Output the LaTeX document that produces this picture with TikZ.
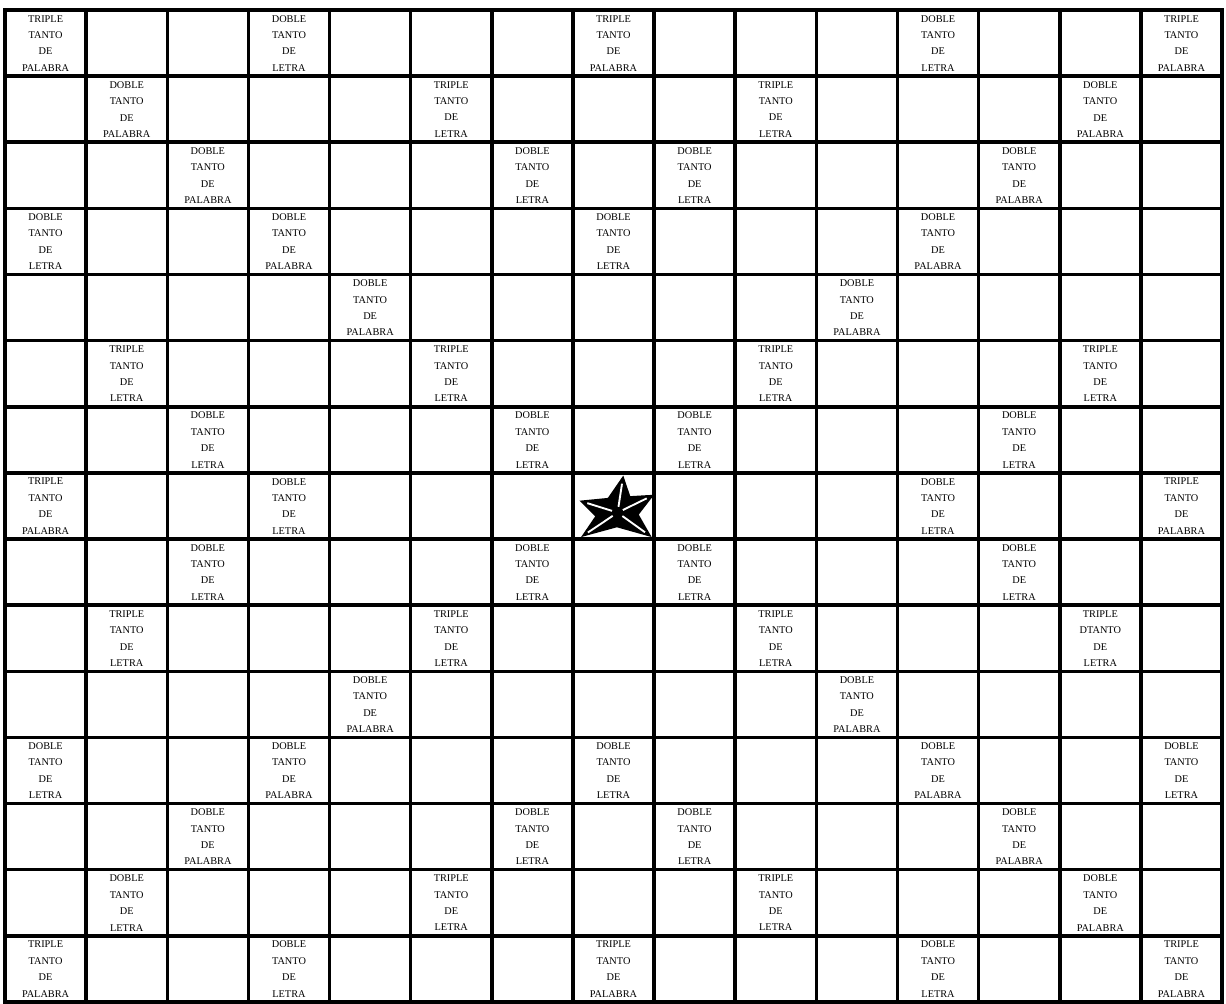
\documentclass[tikz,border=0pt]{standalone}
\usepackage{fontspec}
\setmainfont{Liberation Serif}
\usetikzlibrary{positioning}

\tikzset{
  casilla/.style={font={\fontsize{8.8}{14}\selectfont}, align=center, anchor=north, inner sep=0pt},
  rejilla/.style={line width=3pt, line cap=rect}
}

\begin{document}
\begin{tikzpicture}[x=2.434cm, y=-1.984cm]
	\useasboundingbox[fill=white] (-0.062,-0.151) rectangle (15.049,15.03);

	% Lineas del tablero
	\foreach \i in {0,...,15} {
		\draw[rejilla] (\i,0) -- (\i,15);
		\draw[rejilla] (0,\i) -- (15,\i);
	}

	% Triple tanto de palabra
	\foreach \c/\r in {0/0, 7/0, 14/0, 0/7, 14/7, 0/14, 7/14, 14/14}
		\node[casilla] (tp-\c-\r) at (\c+0.5,\r+0.076) {TRIPLE\\TANTO\\DE\\PALABRA};

	% Doble tanto de palabra
	\foreach \c/\r in {1/1, 13/1, 2/2, 12/2, 3/3, 11/3, 4/4, 10/4, 4/10, 10/10, 3/11, 11/11, 2/12, 12/12, 13/13}
		\node[casilla] (dp-\c-\r) at (\c+0.5,\r+0.076) {DOBLE\\TANTO\\DE\\PALABRA};

	% Triple tanto de letra
	\foreach \c/\r in {5/1, 9/1, 1/5, 5/5, 9/5, 13/5, 1/9, 5/9, 9/9, 5/13, 9/13}
		\node[casilla] (tl-\c-\r) at (\c+0.5,\r+0.076) {TRIPLE\\TANTO\\DE\\LETRA};
	\node[casilla] (tl-13-9) at (13.5,9.076) {TRIPLE\\DTANTO\\DE\\LETRA};

	% Doble tanto de letra
	\foreach \c/\r in {3/0, 11/0, 6/2, 8/2, 0/3, 7/3, 2/6, 6/6, 8/6, 12/6, 3/7, 11/7,
	                   2/8, 6/8, 8/8, 12/8, 0/11, 7/11, 14/11, 6/12, 8/12, 1/13, 3/14, 11/14}
		\node[casilla] (dl-\c-\r) at (\c+0.5,\r+0.076) {DOBLE\\TANTO\\DE\\LETRA};

	% Estrella central
	\begin{scope}[shift={(7,7)}]
		\coordinate (centro) at (0.55,0.60);
		\coordinate (p1) at (0.62,0.04);
		\coordinate (p2) at (1.00,0.33);
		\coordinate (p3) at (0.97,0.97);
		\coordinate (p4) at (0.10,0.97);
		\coordinate (p5) at (0.08,0.42);
		\fill[black] (p1) -- (0.706,0.351) -- (p2) -- (0.811,0.630) -- (p3) -- (0.541,0.822)
			-- (p4) -- (0.274,0.657) -- (p5) -- (0.430,0.378) -- cycle;
		\foreach \p in {p1,p2,p3,p4,p5}
			\draw[white, line width=1.6pt, shorten <=5pt, shorten >=7pt] (centro) -- (\p);
	\end{scope}
\end{tikzpicture}
\end{document}
